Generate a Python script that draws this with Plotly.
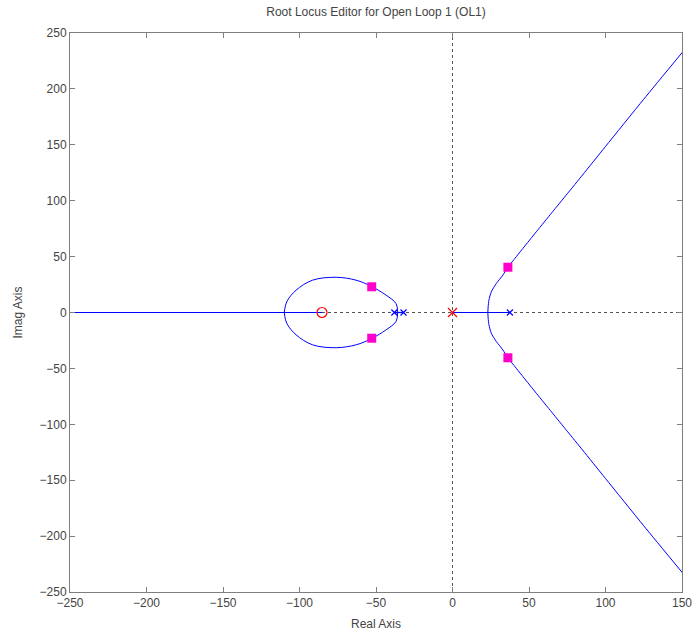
import plotly.graph_objects as go

# ---- data ----
# closed ellipse-like branch around the compensator zero (upper half, left -> right)
loop_re = [-110, -109.2, -107.8, -102.3, -91.5, -76.1, -63.0, -53.2, -43.4, -36.9, -35.8]
loop_im = [0, 6.0, 11.0, 19.9, 28.9, 31.5, 28.9, 23.5, 15.5, 8.0, 0]

# right complex branch (upper half), from breakaway point outwards
branch_re = [23.1, 23.3, 23.8, 25.3, 28.6, 32.9, 36.2, 39.5, 46.0, 55.0, 65.0, 75.0, 85.0, 100.0, 125.0, 150.4]
branch_im = [0, 5.0, 11.0, 18.4, 25.9, 33.4, 40.8, 46.2, 57.3, 72.6, 89.4, 106.2, 123.0, 148.5, 190.8, 233.0]

# real-axis locus segments (start, end)
seg_start = [-250.0, -38.0, 0.0]
seg_end = [-85.3, -32.0, 37.5]

# open-loop poles / zeros
plant_poles = [-38.0, -32.0, 37.5]
comp_poles = [0.0]
comp_zeros = [-85.3]

# closed-loop pole locations (magenta squares)
cl_re = [-52.8, -52.8, 36.2, 36.2]
cl_im = [23.0, -23.0, 40.5, -40.5]

x_range = [-250, 150]
y_range = [-250, 250]
x_ticks = [-250, -200, -150, -100, -50, 0, 50, 100, 150]
y_ticks = [-250, -200, -150, -100, -50, 0, 50, 100, 150, 200, 250]

BLUE = "#0000ff"
RED = "#ff0000"
GRID = "#555555"
LW = 1.0
fig = go.Figure()

# dashed axes through origin (drawn first, as traces, so the locus covers them)
fig.add_trace(go.Scatter(x=x_range, y=[0, 0], mode="lines",
                         line=dict(color=GRID, width=1, dash="3px,3px")))
fig.add_trace(go.Scatter(x=[0, 0], y=y_range, mode="lines",
                         line=dict(color=GRID, width=1, dash="3px,3px")))

# real-axis locus segments in one trace
seg_x, seg_y = [], []
for a, b in zip(seg_start, seg_end):
    seg_x += [a, b, None]
    seg_y += [0, 0, None]
fig.add_trace(go.Scatter(x=seg_x, y=seg_y, mode="lines",
                         line=dict(color=BLUE, width=1.2), connectgaps=False))

# loop (upper and lower)
lower_loop_im = [-v for v in loop_im]
fig.add_trace(go.Scatter(x=loop_re, y=loop_im, mode="lines",
                         line=dict(color=BLUE, width=LW, shape="spline")))
fig.add_trace(go.Scatter(x=loop_re, y=lower_loop_im, mode="lines",
                         line=dict(color=BLUE, width=LW, shape="spline")))

# right branches
lower_branch_im = [-v for v in branch_im]
fig.add_trace(go.Scatter(x=branch_re, y=branch_im, mode="lines",
                         line=dict(color=BLUE, width=LW, shape="spline", smoothing=0.6)))
fig.add_trace(go.Scatter(x=branch_re, y=lower_branch_im, mode="lines",
                         line=dict(color=BLUE, width=LW, shape="spline", smoothing=0.6)))

# plant poles (blue x)
fig.add_trace(go.Scatter(x=plant_poles, y=[0] * len(plant_poles), mode="markers",
                         marker=dict(symbol="x-thin", size=6, color=BLUE,
                                     line=dict(color=BLUE, width=1.2))))
# compensator pole (red x)
fig.add_trace(go.Scatter(x=comp_poles, y=[0] * len(comp_poles), mode="markers",
                         marker=dict(symbol="x-thin", size=9, color=RED,
                                     line=dict(color=RED, width=1.2))))
# compensator zero (red o)
fig.add_trace(go.Scatter(x=comp_zeros, y=[0] * len(comp_zeros), mode="markers",
                         marker=dict(symbol="circle-open", size=10, color=RED,
                                     line=dict(color=RED, width=1.2))))
# closed loop poles
fig.add_trace(go.Scatter(x=cl_re, y=cl_im, mode="markers",
                         marker=dict(symbol="square", size=9, color="#ff00cc")))

axis_common = dict(showgrid=False, zeroline=False, showline=True, linecolor="#7f7f7f",
                   linewidth=1, mirror="ticks", ticks="inside", ticklen=5,
                   tickcolor="#7f7f7f", tickfont=dict(color="#444444", size=12),
                   title_font=dict(color="#444444", size=12), automargin=False)

fig.update_layout(
    width=694, height=633,
    margin=dict(l=70, r=12, t=33, b=41, autoexpand=False),
    plot_bgcolor="white", paper_bgcolor="white",
    showlegend=False,
    font=dict(family="Liberation Sans, Arial, sans-serif", size=12, color="#444444"),
    title=dict(text="Root Locus Editor for Open Loop 1 (OL1)", x=0.5,
               xref="paper", xanchor="center", y=1 - 12 / 633, yanchor="middle",
               font=dict(size=12, color="#444444")),
    xaxis=dict(range=x_range, tickvals=x_ticks, title=dict(text="Real Axis", standoff=10),
               **axis_common),
    yaxis=dict(range=y_range, tickvals=y_ticks, title=dict(text="Imag Axis", standoff=14),
               **axis_common),
)

fig.write_html("out.html")
